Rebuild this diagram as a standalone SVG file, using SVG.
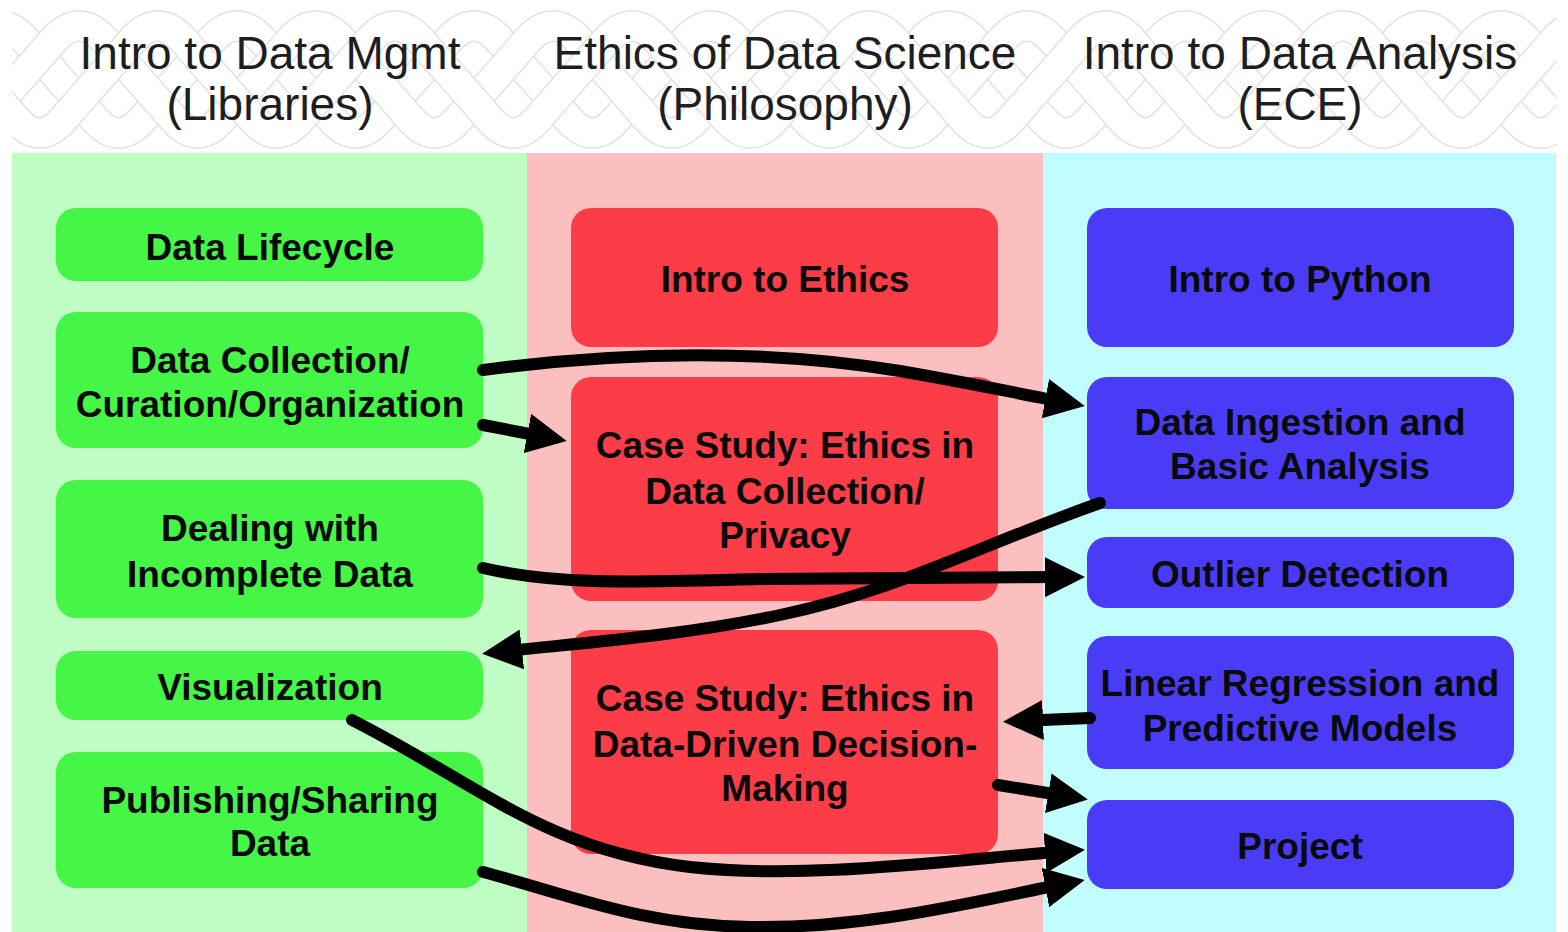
<svg xmlns="http://www.w3.org/2000/svg" xmlns:xlink="http://www.w3.org/1999/xlink" width="1568" height="932" viewBox="0 0 1568 932">
<style>
.hdr{font-family:"Liberation Sans",Arial,Helvetica,sans-serif;font-size:46px;fill:#1e1e1e;text-anchor:middle}
.lbl{font-family:"Liberation Sans",Arial,Helvetica,sans-serif;font-size:37px;font-weight:bold;fill:#0a0a0a;text-anchor:middle}
.g{fill:#46f646}
.r{fill:#fc3c46}
.b{fill:#4a3cf6}
.edge{fill:none;stroke:#000;stroke-width:12;stroke-linecap:round;stroke-linejoin:round;marker-end:url(#ah)}
</style>
<defs>
<marker id="ah" markerUnits="userSpaceOnUse" viewBox="0 0 40 40" markerWidth="40" markerHeight="40" refX="24" refY="20" orient="auto">
<path d="M0,0 L40,20 L0,40 z" fill="#000"/>
</marker>
<clipPath id="hc"><rect x="12" y="6" width="1545" height="147"/></clipPath>
<path id="bp" d="M0,26 C14,26 24,38 34,50 L85,108 C96,121 105,133 118.5,133 C132,133 141,121 152,108 L203,50 C213,38 223,26 237,26"/>
<g id="strand">
<use xlink:href="#bp" x="-474"/><use xlink:href="#bp" x="-237"/><use xlink:href="#bp" x="0"/><use xlink:href="#bp" x="237"/><use xlink:href="#bp" x="474"/><use xlink:href="#bp" x="711"/><use xlink:href="#bp" x="948"/><use xlink:href="#bp" x="1185"/><use xlink:href="#bp" x="1422"/>
</g>
</defs>

<rect x="0" y="0" width="1568" height="932" fill="#ffffff"/>

<g id="header-braid" clip-path="url(#hc)" fill="none">
<use xlink:href="#strand" x="0" stroke="#e2e2e2" stroke-width="32"/>
<use xlink:href="#strand" x="0" stroke="#ffffff" stroke-width="29"/>
<use xlink:href="#strand" x="79" stroke="#e2e2e2" stroke-width="32"/>
<use xlink:href="#strand" x="79" stroke="#ffffff" stroke-width="29"/>
<use xlink:href="#strand" x="158" stroke="#e2e2e2" stroke-width="32"/>
<use xlink:href="#strand" x="158" stroke="#ffffff" stroke-width="29"/>
</g>

<g id="lanes">
<rect x="12" y="153" width="515" height="779" fill="#c0fdc4"/>
<rect x="527" y="153" width="516" height="779" fill="#fbbfbf"/>
<rect x="1043" y="153" width="513" height="779" fill="#c0fdfc"/>
</g>

<g id="headers">
<text class="hdr" x="270" y="69">Intro to Data Mgmt</text>
<text class="hdr" x="270" y="120">(Libraries)</text>
<text class="hdr" x="785" y="69">Ethics of Data Science</text>
<text class="hdr" x="785" y="120">(Philosophy)</text>
<text class="hdr" x="1300" y="69">Intro to Data Analysis</text>
<text class="hdr" x="1300" y="120">(ECE)</text>
</g>

<g id="n-lifecycle"><rect class="g" x="56" y="208" width="427" height="73" rx="20"/><text class="lbl" x="270" y="260">Data Lifecycle</text></g>
<g id="n-collection"><rect class="g" x="56" y="312" width="427" height="136" rx="20"/><text class="lbl" x="270" y="373">Data Collection/</text><text class="lbl" x="270" y="417">Curation/Organization</text></g>
<g id="n-incomplete"><rect class="g" x="56" y="480" width="427" height="138" rx="20"/><text class="lbl" x="270" y="541">Dealing with</text><text class="lbl" x="270" y="587">Incomplete Data</text></g>
<g id="n-visualization"><rect class="g" x="56" y="651" width="427" height="69" rx="20"/><text class="lbl" x="270" y="700">Visualization</text></g>
<g id="n-publishing"><rect class="g" x="56" y="752" width="427" height="136" rx="20"/><text class="lbl" x="270" y="813">Publishing/Sharing</text><text class="lbl" x="270" y="856">Data</text></g>

<g id="n-ethics"><rect class="r" x="571" y="208" width="427" height="139" rx="20"/><text class="lbl" x="785" y="292">Intro to Ethics</text></g>
<g id="n-case1"><rect class="r" x="571" y="377" width="427" height="224" rx="20"/><text class="lbl" x="785" y="458">Case Study: Ethics in</text><text class="lbl" x="785" y="504">Data Collection/</text><text class="lbl" x="785" y="548">Privacy</text></g>
<g id="n-case2"><rect class="r" x="571" y="630" width="427" height="224" rx="20"/><text class="lbl" x="785" y="711">Case Study: Ethics in</text><text class="lbl" x="785" y="757">Data-Driven Decision-</text><text class="lbl" x="785" y="801">Making</text></g>

<g id="n-python"><rect class="b" x="1087" y="208" width="427" height="139" rx="20"/><text class="lbl" x="1300" y="292">Intro to Python</text></g>
<g id="n-ingestion"><rect class="b" x="1087" y="377" width="427" height="132" rx="20"/><text class="lbl" x="1300" y="435">Data Ingestion and</text><text class="lbl" x="1300" y="479">Basic Analysis</text></g>
<g id="n-outlier"><rect class="b" x="1087" y="537" width="427" height="71" rx="20"/><text class="lbl" x="1300" y="587">Outlier Detection</text></g>
<g id="n-regression"><rect class="b" x="1087" y="636" width="427" height="133" rx="20"/><text class="lbl" x="1300" y="696">Linear Regression and</text><text class="lbl" x="1300" y="741">Predictive Models</text></g>
<g id="n-project"><rect class="b" x="1087" y="800" width="427" height="89" rx="20"/><text class="lbl" x="1300" y="859">Project</text></g>

<g id="connectors">
<path class="edge" d="M483,370 C620,352 760,348 900,371 C970,383 1020,394 1069,403"/>
<path class="edge" d="M483,425 L551,438"/>
<path class="edge" d="M483,568 C560,586 640,582 760,579 L1069,577"/>
<path class="edge" d="M1100,503 C980,545 900,590 780,615 C680,636 580,643 498,652"/>
<path class="edge" d="M1090,718 L1019,721"/>
<path class="edge" d="M998,785 L1072,797"/>
<path class="edge" d="M352,720 C480,785 545,850 690,867 C810,880 950,860 1069,851"/>
<path class="edge" d="M483,872 C570,895 640,925 750,927 C870,929 980,900 1069,883"/>
</g>
</svg>
